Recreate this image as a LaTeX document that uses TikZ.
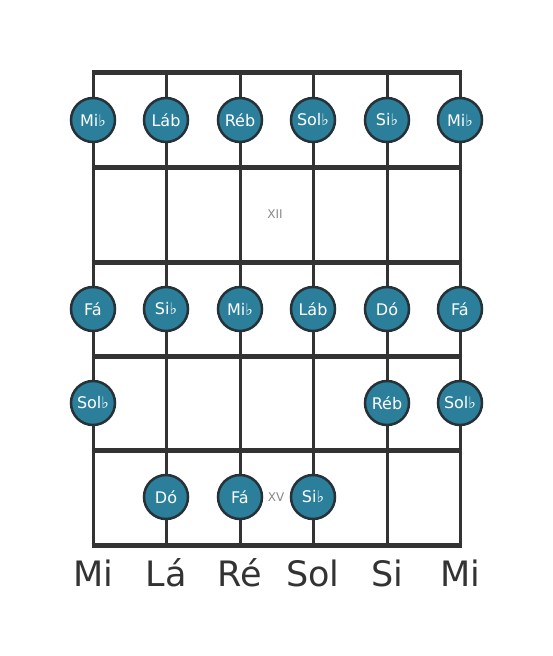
\documentclass[tikz,border=0pt]{standalone}
\usepackage{fontspec}
\setmainfont{DejaVu Sans}
\definecolor{linec}{HTML}{333333}
\definecolor{notefill}{HTML}{2B7F9B}
\definecolor{noteedge}{HTML}{263238}
\definecolor{markc}{HTML}{888888}
\tikzset{
  stringline/.style={draw=linec, line width=3pt},
  fretline/.style={draw=linec, line width=5pt, line cap=butt},
  note/.style={circle, minimum size=44pt, inner sep=0pt, fill=notefill, draw=noteedge, line width=2.5pt, text=white, font=\fontsize{16}{16}\selectfont},
  marker/.style={text=markc, font=\fontsize{12}{12}\selectfont},
  strname/.style={text=linec, font=\fontsize{35}{35}\selectfont}
}
\begin{document}
\begin{tikzpicture}[x=1pt,y=-1pt]
\useasboundingbox[fill=white] (0,0) rectangle (553,656);
% strings
\foreach \i/\x in {1/93,2/166,3/240,4/313,5/387,6/460}{
  \coordinate (s\i t) at (\x,72);
  \coordinate (s\i b) at (\x,545);
  \draw[stringline] (s\i t) -- (s\i b);
}
% frets
\foreach \j/\y in {1/72,2/167,3/262,4/356,5/450,6/545}{
  \coordinate (f\j l) at (91.5,\y);
  \coordinate (f\j r) at (461.5,\y);
  \draw[fretline] (f\j l) -- (f\j r);
}
% markers
\node[marker] (m12) at (275,214) {XII};
\node[marker] (m15) at (276,497) {XV};
% row 1
\node[note] (a1) at (93,120) {Mi♭};
\node[note] (a2) at (166,120) {Láb};
\node[note] (a3) at (240,120) {Réb};
\node[note] (a4) at (313,120) {Sol♭};
\node[note] (a5) at (387,120) {Si♭};
\node[note] (a6) at (460,120) {Mi♭};
% row 3
\node[note] (c1) at (93,309) {Fá};
\node[note] (c2) at (166,309) {Si♭};
\node[note] (c3) at (240,309) {Mi♭};
\node[note] (c4) at (313,309) {Láb};
\node[note] (c5) at (387,309) {Dó};
\node[note] (c6) at (460,309) {Fá};
% row 4
\node[note] (d1) at (93,403) {Sol♭};
\node[note] (d5) at (387,403) {Réb};
\node[note] (d6) at (460,403) {Sol♭};
% row 5
\node[note] (e2) at (166,497) {Dó};
\node[note] (e3) at (240,497) {Fá};
\node[note] (e4) at (313,497) {Si♭};
% string names
\node[strname] (l1) at (93,573) {Mi};
\node[strname] (l2) at (166,573) {Lá};
\node[strname] (l3) at (240,573) {Ré};
\node[strname] (l4) at (313,573) {Sol};
\node[strname] (l5) at (387,573) {Si};
\node[strname] (l6) at (460,573) {Mi};
\end{tikzpicture}
\end{document}
